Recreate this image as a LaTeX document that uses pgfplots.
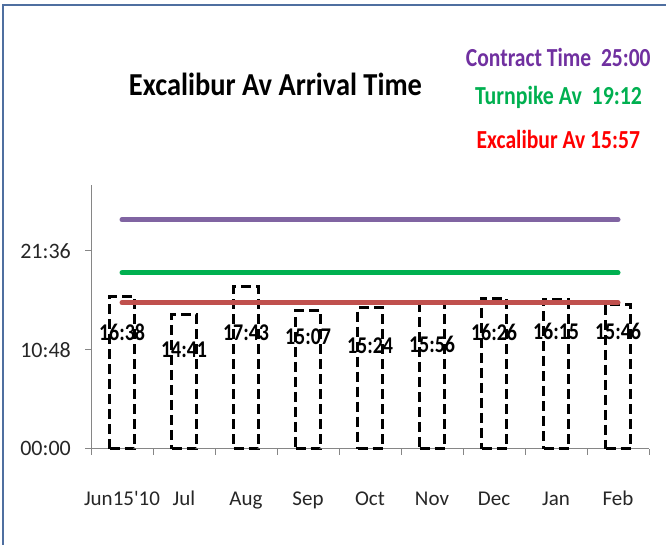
\documentclass[border=0pt]{standalone}
\usepackage{pgfplots}
\usepackage{pgfplotstable}
\pgfplotsset{compat=1.18}
\usepackage{fontspec}
\setmainfont{Carlito}
\newfontfamily\carl{Carlito}
\usepackage{graphicx}
\definecolor{frameblue}{HTML}{4F6FA0}
\definecolor{cpurple}{HTML}{7030A0}
\definecolor{lpurple}{HTML}{8064A2}
\definecolor{cgreen}{HTML}{00B050}
\definecolor{lred}{HTML}{C0504D}
\definecolor{axgray}{HTML}{868686}

\pgfplotstableread{
x y
0 16.633
1 14.683
2 17.717
3 15.117
4 15.400
5 15.933
6 16.433
7 16.250
8 15.767
}\bartab

\pgfplotstableread{
x y lab
0 12.66 16:38
1 10.80 14:41
2 12.66 17:43
3 12.22 15:07
4 11.24 15:24
5 11.35 15:56
6 12.66 16:26
7 12.77 16:15
8 12.77 15:46
}\labtab

\begin{document}
\begin{tikzpicture}[x=1pt,y=1pt]
\useasboundingbox (0,0) rectangle (666,544);
\fill[white] (0,0) rectangle (666,544);
\draw[frameblue, line width=2pt] (3,-2) -- (3,539) -- (668,539);
\begin{axis}[
  at={(91pt,95.3pt)}, anchor=south west,
  scale only axis, width=558pt, height=263.7pt,
  xmin=-0.5, xmax=8.5, ymin=0, ymax=28.8,
  clip=false,
  axis x line*=bottom, axis y line*=left,
  axis line style={draw=axgray, line width=1pt, -},
  tick style={draw=axgray, line width=1pt},
  tick align=outside, major tick length=6pt,
  ytick={0,10.8,21.6},
  yticklabels={00:00,10:48,21:36},
  yticklabel style={font=\carl\fontsize{22}{26}\selectfont, text=black!85, anchor=east, inner sep=0pt, xshift=-14pt},
  xtick={-0.5,0.5,1.5,2.5,3.5,4.5,5.5,6.5,7.5,8.5},
  xticklabels={{},{},{},{},{},{},{},{},{},{}},
  extra x ticks={0,1,2,3,4,5,6,7,8},
  extra x tick labels={Jun15'10,Jul,Aug,Sep,Oct,Nov,Dec,Jan,Feb},
  extra x tick style={major tick length=0pt,
     xticklabel style={font=\carl\fontsize{21}{25}\selectfont, text=black!85, anchor=base, inner sep=0pt, yshift=-57pt}},
]
\addplot[ybar, bar width=25pt, draw=black, line width=3pt, dash pattern=on 10pt off 5pt, fill=none] table[x=x,y=y] {\bartab};
\addplot[lpurple, line width=5pt, line cap=round] coordinates {(0,25) (8,25)};
\addplot[cgreen, line width=5pt, line cap=round] coordinates {(0,19.2) (8,19.2)};
\addplot[lred, line width=5pt, line cap=round] coordinates {(0,15.95) (8,15.95)};
\addplot[draw=none, mark=none, point meta=explicit symbolic,
  nodes near coords={\resizebox{46pt}{\height}{\pgfplotspointmeta}},
  every node near coord/.style={anchor=center, inner sep=0pt, font=\bfseries\fontsize{24}{28}\selectfont, text=black}]
  table[x=x,y=y,meta=lab] {\labtab};
\end{axis}
\node[anchor=base, inner sep=0pt, font=\bfseries\fontsize{32}{36}\selectfont] at (275.5,448) {\resizebox{293pt}{\height}{Excalibur Av Arrival Time}};
\node[anchor=base, inner sep=0pt, text=cpurple, font=\bfseries\fontsize{26}{30}\selectfont] at (558.3,477.3) {\resizebox{184.7pt}{\height}{Contract Time\ \ 25:00}};
\node[anchor=base, inner sep=0pt, text=cgreen, font=\bfseries\fontsize{26}{30}\selectfont] at (558.5,439) {\resizebox{167pt}{\height}{Turnpike Av\ \ 19:12}};
\node[anchor=base, inner sep=0pt, text=red, font=\bfseries\fontsize{26}{30}\selectfont] at (558.3,395.7) {\resizebox{163.3pt}{\height}{Excalibur Av 15:57}};
\end{tikzpicture}
\end{document}
